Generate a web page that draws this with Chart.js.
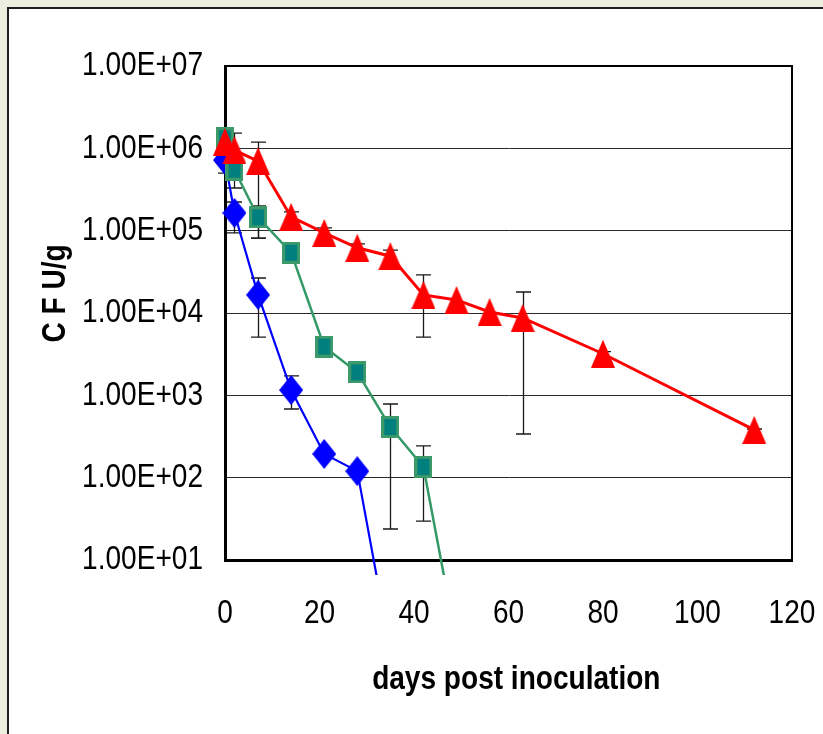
<!DOCTYPE html>
<html>
<head>
<meta charset="utf-8">
<script src="https://cdn.jsdelivr.net/npm/chart.js@4.4.1/dist/chart.umd.min.js"></script>
<style>
  html, body { margin:0; padding:0; overflow:hidden; background:#ECEEE0; width:823px; height:734px; }
  #panel { position:absolute; left:7px; top:7px; width:900px; height:900px; background:#fff;
           border-left:2px solid #1e1e1e; border-top:2px solid #1e1e1e; }
  #c { position:absolute; left:0; top:0; }
</style>
</head>
<body>
<div id="panel"></div>
<canvas id="c" width="823" height="734"></canvas>
<script>
// ---- data ----
const xTickValues = [0, 20, 40, 60, 80, 100, 120];
const yTickValues = [1e1, 1e2, 1e3, 1e4, 1e5, 1e6, 1e7];
const yTickLabels = ["1.00E+01", "1.00E+02", "1.00E+03", "1.00E+04", "1.00E+05", "1.00E+06", "1.00E+07"];

// red triangles
const redDays  = [0, 2, 7, 14, 21, 28, 35, 42, 49, 56, 63, 80, 112];
const redCFU   = [1.2e6, 9.5e5, 7.0e5, 1.47e5, 9.4e4, 6.2e4, 4.9e4, 1.66e4, 1.44e4, 1.03e4, 8.7e3, 3.2e3, 380];
const redUpper = [null, 1.53e6, 1.19e6, 1.69e5, 1.08e5, 6.9e4, 5.8e4, 2.9e4, null, null, 1.8e4, 3.4e3, 390];
const redLower = [null, null, 8.1e4, null, null, null, null, 5.1e3, null, null, 339, null, null];

// green squares
const greenDays  = [0, 2, 7, 14, 21, 28, 35, 42, 49];
const greenCFU   = [1.33e6, 5.5e5, 1.45e5, 5.4e4, 3.9e3, 1.9e3, 412, 135, 1];
const greenUpper = [null, null, 2.0e5, null, null, null, 785, 243, null];
const greenLower = [5.0e5, 3.3e5, 8.1e4, null, null, null, 23.8, 29.7, null];

// blue diamonds
const blueDays  = [0, 2, 7, 14, 21, 28, 35];
const blueCFU   = [7.2e5, 1.64e5, 1.66e4, 1.16e3, 194, 120, 0.8];
const blueUpper = [null, 2.23e5, 2.66e4, 1.72e3, null, null, null];
const blueLower = [null, 9.4e4, 5.1e3, 682, null, null, null];

const xTitle = "  days post inoculation";
const yTitle = "     C F U/g";

// ---- font: Arial-metric sans, drawn condensed like the reference's narrow face ----
const FAMILY = '"Liberation Sans", Arial, sans-serif';
const FSIZE = 34;
const CONDENSE = 0.825;

const canvas = document.getElementById('c');
const ctx2d = canvas.getContext('2d');
const origFillText = ctx2d.fillText;
ctx2d.fillText = function (t, x, y, mw) {
  const w = this.measureText(t).width * CONDENSE;
  const m = (mw != null && isFinite(mw)) ? Math.min(mw, w) : w;
  return origFillText.call(this, t, x, y, m);
};

// ---- marker images ----
function mk(w, h, draw) {
  const c = document.createElement('canvas'); c.width = w; c.height = h;
  draw(c.getContext('2d'), w, h); return c;
}
const triImg = mk(24, 28, (g, w, h) => {
  g.fillStyle = '#FF0000'; g.beginPath(); g.moveTo(w / 2, 0); g.lineTo(w, h); g.lineTo(0, h); g.closePath(); g.fill();
});
const sqImg = mk(18, 22, (g, w, h) => {
  g.fillStyle = '#3C9A6A'; g.fillRect(0, 0, w, h);
  g.fillStyle = '#007F7F'; g.fillRect(3, 3, w - 6, h - 6);
});
const diaImg = mk(24, 30, (g, w, h) => {
  g.fillStyle = '#0000FF'; g.beginPath(); g.moveTo(w / 2, 0); g.lineTo(w, h / 2); g.lineTo(w / 2, h); g.lineTo(0, h / 2); g.closePath(); g.fill();
});

const series = [
  { days: redDays, vals: redCFU, up: redUpper, lo: redLower },
  { days: greenDays, vals: greenCFU, up: greenUpper, lo: greenLower },
  { days: blueDays, vals: blueCFU, up: blueUpper, lo: blueLower }
];

const errPlugin = {
  id: 'errbars',
  beforeDatasetsDraw(chart) {
    const { ctx, scales: { x, y } } = chart;
    ctx.save();
    ctx.strokeStyle = '#1a1a1a';
    ctx.lineWidth = 1.3;
    const cap = 7.5;
    series.forEach(s => s.days.forEach((d, i) => {
      const hi = s.up[i], lo = s.lo[i];
      if (hi == null && lo == null) return;
      const px = Math.round(x.getPixelForValue(d)) + 0.5;
      const pc = y.getPixelForValue(s.vals[i]);
      const pt = hi != null ? y.getPixelForValue(hi) : pc;
      const pb = lo != null ? y.getPixelForValue(lo) : pc;
      ctx.beginPath();
      ctx.moveTo(px, pt); ctx.lineTo(px, pb);
      if (hi != null) { ctx.moveTo(px - cap, pt); ctx.lineTo(px + cap, pt); }
      if (lo != null) { ctx.moveTo(px - cap, pb); ctx.lineTo(px + cap, pb); }
      ctx.stroke();
    }));
    ctx.restore();
  }
};

const framePlugin = {
  id: 'frame',
  beforeDatasetsDraw(chart) {
    const { ctx, chartArea: a } = chart;
    ctx.save();
    ctx.strokeStyle = '#000';
    ctx.lineWidth = 2;
    ctx.beginPath();
    ctx.moveTo(a.left, a.top); ctx.lineTo(a.right, a.top); ctx.lineTo(a.right, a.bottom);
    ctx.stroke();
    ctx.restore();
  }
};

const clipOpt = { left: 20, top: 20, right: 20, bottom: 15 };
const pts = (days, vals) => days.map((d, i) => ({ x: d, y: vals[i] }));

new Chart(canvas, {
  type: 'line',
  data: {
    datasets: [
      { data: pts(redDays, redCFU), borderColor: '#FF0000', borderWidth: 3, pointStyle: triImg, pointRadius: 12, clip: clipOpt, tension: 0 },
      { data: pts(greenDays, greenCFU), borderColor: '#339966', borderWidth: 2.5, pointStyle: sqImg, pointRadius: 10, clip: clipOpt, tension: 0 },
      { data: pts(blueDays, blueCFU), borderColor: '#0000FF', borderWidth: 2.2, pointStyle: diaImg, pointRadius: 12, clip: clipOpt, tension: 0 }
    ]
  },
  options: {
    responsive: false,
    animation: false,
    events: [],
    layout: { padding: { top: 66, right: 31, left: 0, bottom: 0 } },
    plugins: { legend: { display: false }, tooltip: { enabled: false } },
    scales: {
      x: {
        type: 'linear', min: 0, max: 120,
        afterBuildTicks: s => { s.ticks = xTickValues.map(v => ({ value: v })); },
        afterFit: s => { s.height = 174; s.paddingLeft = 0; s.paddingRight = 0; },
        ticks: { color: '#000', padding: 33, maxRotation: 0, font: { family: FAMILY, size: FSIZE } },
        grid: { display: false, drawTicks: false },
        border: { display: true, color: '#000', width: 3 },
        title: { display: true, text: xTitle, color: '#000', padding: { top: 0, bottom: 34 },
                 font: { family: FAMILY, size: FSIZE, weight: 'bold' } }
      },
      y: {
        type: 'logarithmic', min: 10, max: 1e7,
        afterBuildTicks: s => { s.ticks = yTickValues.map(v => ({ value: v })); },
        afterFit: s => { s.width = 225; s.paddingTop = 0; s.paddingBottom = 0; },
        ticks: { color: '#000', padding: 22, font: { family: FAMILY, size: FSIZE },
                 callback: (v, i) => yTickLabels[i] },
        grid: { color: '#2a2a2a', lineWidth: 1, drawTicks: false },
        border: { display: true, color: '#000', width: 3 },
        title: { display: true, text: yTitle, color: '#000', padding: { top: 35, bottom: 0 },
                 font: { family: FAMILY, size: FSIZE, weight: 'bold' } }
      }
    }
  },
  plugins: [errPlugin, framePlugin]
});
</script>
</body>
</html>
